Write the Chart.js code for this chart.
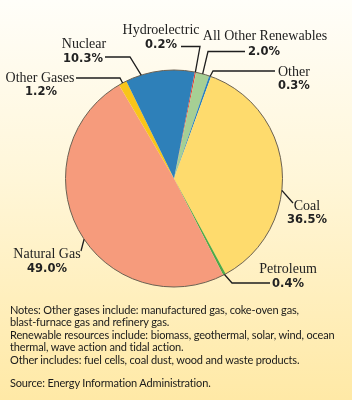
<!DOCTYPE html>
<html>
<head>
<meta charset="utf-8">
<script src="https://cdn.jsdelivr.net/npm/chart.js@4"></script>
<style>
  html, body { margin: 0; padding: 0; }
  body {
    width: 352px; height: 400px; overflow: hidden; position: relative;
    background: linear-gradient(to bottom, #fffef9 0%, #fff6d8 45%, #ffe9a6 100%);
  }
  #wrap { position: absolute; left: 0; top: 0; width: 352px; height: 400px; }
  #notes {
    position: absolute; left: 10px; top: 304px; width: 340px; white-space: nowrap;
    font-family: Lato, sans-serif; font-size: 11px; letter-spacing: -0.15px; line-height: 12.4px; color: #1a1a1a;
  }
  #notes p { margin: 0; }
</style>
</head>
<body>
<div id="wrap"><canvas id="myChart" width="352" height="400"></canvas></div>
<div id="notes">
  <p>Notes: Other gases include: manufactured gas, coke-oven gas,</p>
  <p>blast-furnace gas and refinery gas.</p>
  <p>Renewable resources include: biomass, geothermal, solar, wind, ocean</p>
  <p>thermal, wave action and tidal action.</p>
  <p>Other includes: fuel cells, coal dust, wood and waste products.</p>
  <p style="margin-top:11px">Source: Energy Information Administration.</p>
</div>
<script>
const sources = ['Hydroelectric', 'All Other Renewables', 'Other', 'Coal', 'Petroleum', 'Natural Gas', 'Other Gases', 'Nuclear'];
const shares = [0.2, 2.0, 0.3, 36.5, 0.4, 49.0, 1.2, 10.3];
const shareLabels = ['0.2%', '2.0%', '0.3%', '36.5%', '0.4%', '49.0%', '1.2%', '10.3%'];
const colors = ['#e2453b', '#a6cf94', '#2a80be', '#fedb6d', '#4ea94a', '#f69b7c', '#f8c51a', '#2e80b9'];

// label layout: name/value text position, leader path, where on the arc the leader ends (0..1)
const labelLayout = [
  { x: 161, y: 34, vx: 161, vy: 48, align: 'center', path: [[181, 46.5], [200, 46.5]], f: 0.5 },
  { x: 265, y: 40, vx: 264, vy: 55, align: 'center', path: [[245, 51.5], [208, 51.5]], f: 0.5 },
  { x: 278, y: 76, vx: 278, vy: 89, align: 'left', path: [[275, 71], [213, 71]], f: 0.5 },
  { x: 307, y: 210, vx: 307, vy: 223, align: 'center', path: [[293, 203]], f: 0.58 },
  { x: 288, y: 273, vx: 288, vy: 287, align: 'center', path: [[270, 283], [232, 283]], f: 0.5 },
  { x: 47, y: 258, vx: 47, vy: 272, align: 'center', path: [[81, 251]], f: 0.47 },
  { x: 40, y: 82, vx: 41, vy: 95, align: 'center', path: [[76, 78], [120, 78]], f: 0.5 },
  { x: 84, y: 48, vx: 83, vy: 62, align: 'center', path: [[105, 57], [130, 57]], f: 0.23 }
];

const pieLabels = {
  id: 'pieLabels',
  afterDatasetsDraw(chart) {
    const c = chart.ctx;
    const arcs = chart.getDatasetMeta(0).data;
    const a0 = arcs[0];
    // outer outline
    c.save();
    c.beginPath();
    c.arc(a0.x, a0.y, a0.outerRadius, 0, Math.PI * 2);
    c.strokeStyle = '#6b6152';
    c.lineWidth = 1;
    c.stroke();
    arcs.forEach((arc, i) => {
      const L = labelLayout[i];
      const ang = arc.startAngle + L.f * (arc.endAngle - arc.startAngle);
      const px = arc.x + arc.outerRadius * Math.cos(ang);
      const py = arc.y + arc.outerRadius * Math.sin(ang);
      c.beginPath();
      c.moveTo(L.path[0][0], L.path[0][1]);
      for (let k = 1; k < L.path.length; k++) c.lineTo(L.path[k][0], L.path[k][1]);
      c.lineTo(px, py);
      c.strokeStyle = '#1e1e1e';
      c.lineWidth = 1.3;
      c.stroke();
      c.fillStyle = '#222';
      c.textAlign = L.align;
      c.textBaseline = 'alphabetic';
      c.font = '14px "Liberation Serif", serif';
      c.fillText(sources[i], L.x, L.y);
      c.font = 'bold 11.5px "DejaVu Sans", sans-serif';
      c.fillText(shareLabels[i], L.vx, L.vy);
    });
    c.restore();
  }
};

const ctx = document.getElementById('myChart');
new Chart(ctx, {
  type: 'pie',
  data: {
    labels: sources,
    datasets: [{
      data: shares,
      backgroundColor: colors,
      borderWidth: 0
    }]
  },
  options: {
    responsive: false,
    animation: false,
    rotation: 11,
    layout: { padding: { left: 65.5, right: 69.5, top: 70, bottom: 113 } },
    plugins: { legend: { display: false }, tooltip: { enabled: false } }
  },
  plugins: [pieLabels]
});
</script>
</body>
</html>
